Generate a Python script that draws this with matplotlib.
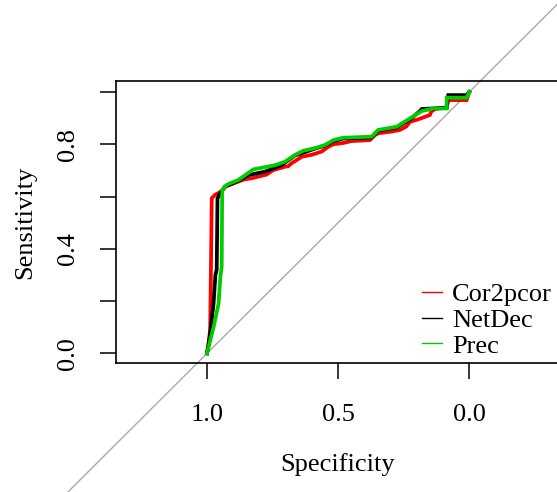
import matplotlib
matplotlib.use('Agg')
import matplotlib.pyplot as plt
from matplotlib.lines import Line2D

# ROC curves (specificity, sensitivity)
cor2pcor_spec = [1.0, 0.995, 0.988, 0.985, 0.982, 0.970, 0.963, 0.944, 0.931, 0.881, 0.860,
                 0.830, 0.805, 0.773, 0.748, 0.703, 0.690, 0.678, 0.639, 0.600, 0.563, 0.537,
                 0.518, 0.480, 0.450, 0.379, 0.360, 0.347, 0.300, 0.264, 0.240, 0.226, 0.190,
                 0.150, 0.145, 0.130, 0.086, 0.080, 0.010, 0.0]
cor2pcor_sens = [0.0, 0.03, 0.09, 0.32, 0.593, 0.606, 0.610, 0.620, 0.638, 0.657, 0.665,
                 0.670, 0.676, 0.684, 0.701, 0.714, 0.716, 0.727, 0.752, 0.760, 0.772, 0.791,
                 0.800, 0.805, 0.812, 0.816, 0.835, 0.842, 0.848, 0.855, 0.868, 0.886, 0.897,
                 0.912, 0.925, 0.935, 0.940, 0.969, 0.969, 1.0]

netdec_spec = [1.0, 0.990, 0.975, 0.968, 0.963, 0.960, 0.950, 0.931, 0.881, 0.843, 0.779,
               0.716, 0.665, 0.589, 0.550, 0.518, 0.480, 0.372, 0.347, 0.277, 0.226, 0.190,
               0.181, 0.137, 0.086, 0.080, 0.010, 0.0]
netdec_sens = [0.0, 0.06, 0.19, 0.30, 0.32, 0.593, 0.612, 0.638, 0.660, 0.682, 0.695,
               0.720, 0.757, 0.783, 0.795, 0.812, 0.822, 0.826, 0.852, 0.864, 0.895, 0.925,
               0.935, 0.937, 0.940, 0.988, 0.988, 1.0]

prec_spec = [1.0, 0.975, 0.956, 0.949, 0.944, 0.942, 0.925, 0.918, 0.881, 0.823, 0.740,
             0.703, 0.665, 0.633, 0.589, 0.550, 0.518, 0.480, 0.372, 0.347, 0.277, 0.226,
             0.181, 0.137, 0.086, 0.086, 0.010, 0.0]
prec_sens = [0.0, 0.10, 0.19, 0.293, 0.331, 0.625, 0.644, 0.648, 0.663, 0.704, 0.720,
             0.733, 0.759, 0.775, 0.785, 0.797, 0.816, 0.825, 0.829, 0.855, 0.867, 0.899,
             0.927, 0.937, 0.937, 0.978, 0.978, 1.0]

labels = ['Cor2pcor', 'NetDec', 'Prec']
colors = ['#FF0000', '#000000', '#00CD00']

plt.rcParams['font.family'] = ['Liberation Serif', 'DejaVu Serif']
plt.rcParams['font.size'] = 19

W, H = 557, 492
fig = plt.figure(figsize=(W / 100, H / 100), dpi=100)
# box spans pixels x 116..560, y 81..363 (right side falls just off the image)
ax = fig.add_axes([116 / W, (H - 363.3) / H, (560 - 116) / W, (363.3 - 81) / H])
ax.set_xlim(1.347, -0.346)
ax.set_ylim(-0.038, 1.042)

# identity line runs across the whole figure, as in pROC
ax.plot([2.0, -1.0], [-1.0, 2.0], color='#A9A9A9', lw=1.0, clip_on=False, zorder=1)

series = [(cor2pcor_spec, cor2pcor_sens), (netdec_spec, netdec_sens), (prec_spec, prec_sens)]
for (sp, se), c in zip(series, colors):
    ax.plot(sp, se, color=c, lw=2.7, solid_joinstyle='miter', zorder=2)

ax.set_xticks([1.0, 0.5, 0.0])
ax.set_xticklabels(['1.0', '0.5', '0.0'])
ax.set_yticks([0.0, 0.2, 0.4, 0.6, 0.8, 1.0])
ax.set_yticklabels(['0.0', '', '0.4', '', '0.8', ''], rotation=90, va='center')
ax.tick_params(direction='out', length=11.5, width=1.1)
ax.tick_params(axis='x', pad=18)
ax.tick_params(axis='y', pad=15)
for s in ax.spines.values():
    s.set_linewidth(1.2)

ax.set_xlabel('Specificity', labelpad=19)
ax.set_ylabel('Sensitivity', labelpad=15)

handles = [Line2D([0], [0], color=c, lw=1.0) for c in colors]
fig.legend(handles, labels, loc='upper left', bbox_to_anchor=(421.7 / W, (H - 283) / H),
           frameon=False, borderpad=0, borderaxespad=0, handlelength=0.78,
           handletextpad=0.36, labelspacing=0.08)

fig.savefig('out.png', dpi=100)
